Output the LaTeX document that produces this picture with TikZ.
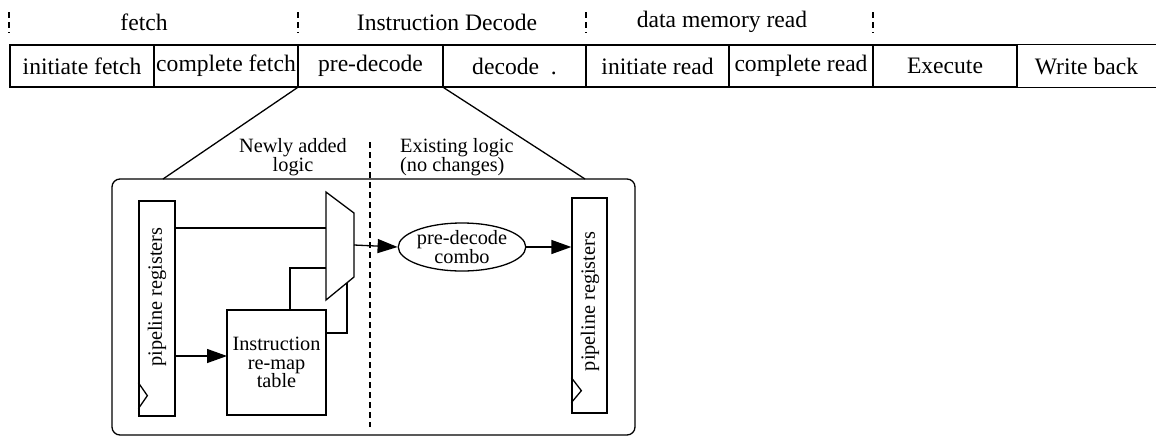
\documentclass[tikz,border=0pt]{standalone}
\usepackage{fontspec}
\setmainfont{Liberation Serif}
\usetikzlibrary{arrows.meta,shapes.geometric,calc}
\tikzset{
  stufe/.style={draw,line width=1.3pt,minimum height=42pt,inner sep=0pt,font=\fontsize{23.6pt}{26pt}\selectfont},
  phase/.style={inner sep=0pt,font=\fontsize{23.6pt}{26pt}\selectfont},
  trenn/.style={line width=1.2pt,dash pattern=on 6pt off 4pt},
  linie/.style={line width=1.3pt},
  pfeil/.style={-{Triangle[length=20pt,width=14pt]},line width=1.3pt},
  klein/.style={inner sep=0pt,font=\fontsize{20.3pt}{18.5pt}\selectfont},
  reg/.style={draw,line width=1.3pt,inner sep=0pt},
}

\begin{document}
\begin{tikzpicture}[x=1pt,y=-1pt]
  \useasboundingbox (0,0) rectangle (1156,437);
  % phases
  \node[phase] (ph1) at (144,22) {fetch};
  \node[phase] (ph2) at (447,22) {Instruction Decode};
  \node[phase] (ph3) at (722,22) {data memory read};
  \draw[trenn] (9,12)--(9,33); \draw[trenn] (298,12)--(298,33);
  \draw[trenn] (586,12)--(586,33); \draw[trenn] (873,12)--(873,33);
  % pipeline stages
  \node[stufe,minimum width=144] (inifetch) at (82,66) {initiate fetch};
  \node[stufe,minimum width=144] (comfetch) at (226,66) {complete fetch};
  \node[stufe,minimum width=145] (predec) at (370.5,66) {pre-decode};
  \node[stufe,minimum width=143] (dec) at (514.5,66) {decode\ \ .};
  \node[stufe,minimum width=143] (iniread) at (657.5,66) {initiate read};
  \node[stufe,minimum width=144] (comread) at (801,66) {complete read};
  \node[stufe,minimum width=144] (exe) at (945,66) {Execute};
  \node[stufe,draw=none,minimum width=139] (wb) at (1086.5,66) {Write back};
  \draw[linie] (wb.north west)--(wb.north east) (wb.south west)--(wb.south east);
  % zoomed pre-decode stage
  \node[draw,linie,rounded corners=8pt,minimum width=523,minimum height=256,inner sep=0pt] (logik) at (373.5,307) {};
  \coordinate (fanl) at (163,179); \coordinate (fanr) at (585,179);
  \draw[linie] (predec.south west)--(fanl);
  \draw[linie] (predec.south east)--(fanr);
  \draw[trenn] (370,142)--(370,427);
  \node[klein,align=center] (neu) at (293,157) {Newly added\\logic};
  \node[klein,align=left,anchor=west] (alt) at (400,157) {Existing logic\\(no changes)};
  % registers
  \node[reg,minimum width=36,minimum height=215] (regl) at (157,308.5) {};
  \node[klein,rotate=90] (regltxt) at (157,297) {pipeline registers};
  \draw[linie] ($(regl.south west)+(0,-34)$)--($(regl.south west)+(9,-21)$)--($(regl.south west)+(0,-8)$);
  \node[reg,minimum width=35,minimum height=215] (regr) at (589.5,305.5) {};
  \node[klein,rotate=90] (regrtxt) at (590,301.5) {pipeline registers};
  \draw[linie] ($(regr.south west)+(0,-36)$)--($(regr.south west)+(10,-23)$)--($(regr.south west)+(0,-11)$);
  \node[reg,minimum width=99,minimum height=105,align=center,klein] (remap) at (276.5,362.5) {Instruction\\re-map\\table};
  \node[draw,linie,ellipse,minimum width=118,minimum height=48,inner sep=0pt,align=center,klein] (combo) at (462,247) {pre-decode\\combo};
  % mux
  \draw[linie] (326,192)--(354,213)--(354,277)--(326,300)--cycle;
  \coordinate (muxa) at (326,228); \coordinate (muxb) at (326,268);
  \coordinate (muxo) at (354,245); \coordinate (muxs) at (347,283);
  \coordinate (rin) at (227,356); \coordinate (rtop) at (290,310);
  \coordinate (rre) at (326,333);
  \draw[linie] (regl.east |- muxa)--(muxa);
  \draw[pfeil] (regl.east |- rin)--(rin);
  \draw[linie] (rtop) |- (muxb);
  \draw[linie] (rre) -| (muxs);
  \draw[pfeil] (muxo)--(combo.west);
  \draw[pfeil] (combo.east)--(regr.west |- combo.east);
\end{tikzpicture}
\end{document}
